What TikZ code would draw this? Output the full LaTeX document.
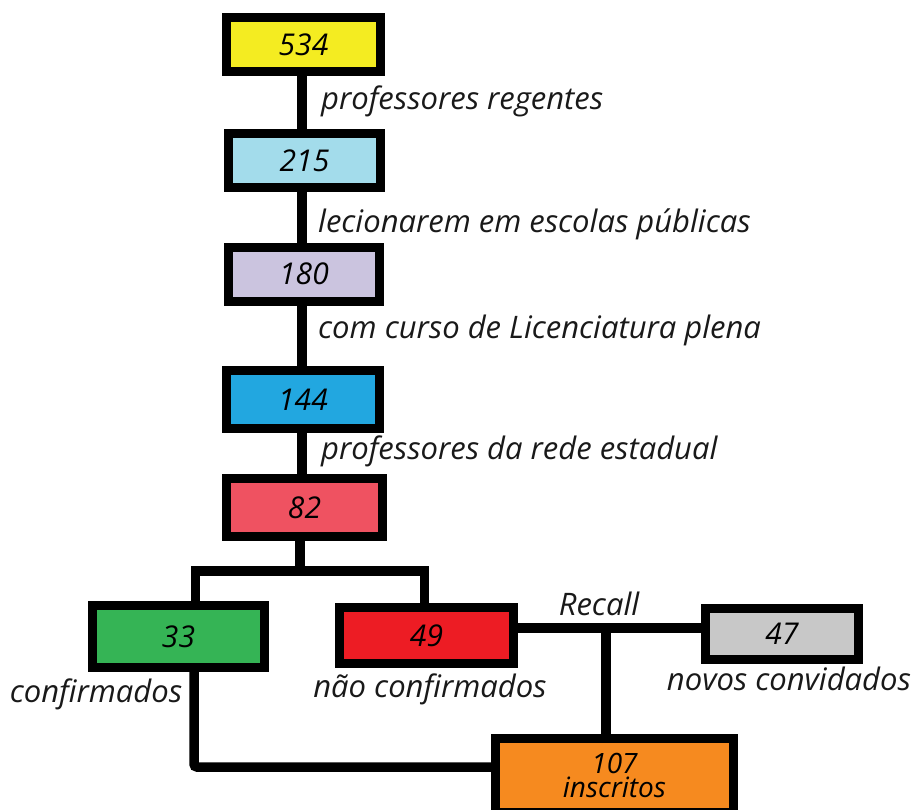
\documentclass[tikz,border=0pt]{standalone}
\usepackage{fontspec}
\setmainfont{Open Sans}
\begin{document}
\begin{tikzpicture}[x=1pt,y=-1pt,
  box/.style={draw=black, line width=9pt, rectangle, inner sep=0pt, outer sep=0pt, align=center, text=black,
    font=\fontsize{30}{30}\selectfont\itshape},
  lbl/.style={inner sep=0pt, text=black!90, font=\fontsize{31}{31}\selectfont\itshape},
  wire/.style={draw=black, line width=9.5pt}]
\useasboundingbox (0,0) rectangle (918,809);
\definecolor{cyel}{HTML}{F4EC21}
\definecolor{clblue}{HTML}{A3DCEB}
\definecolor{clav}{HTML}{CBC4DF}
\definecolor{cblue}{HTML}{22A7E0}
\definecolor{cpink}{HTML}{EF5261}
\definecolor{cgreen}{HTML}{35B455}
\definecolor{cred}{HTML}{ED1C24}
\definecolor{cgray}{HTML}{C8C8C8}
\definecolor{corange}{HTML}{F68A1F}

\node[box, fill=cyel, minimum width=154pt, minimum height=54pt] (n534) at (303.5,44.5) {534};
\node[box, fill=clblue, minimum width=152pt, minimum height=54pt] (n215) at (304.5,160.5) {215};
\node[box, fill=clav, minimum width=151pt, minimum height=54pt] (n180) at (304,274) {180};
\node[box, fill=cblue, minimum width=153pt, minimum height=58pt] (n144) at (303,399.5) {144};
\node[box, fill=cpink, minimum width=156pt, minimum height=58pt] (n82) at (304.5,507.5) {82};
\node[box, fill=cgreen, minimum width=172pt, minimum height=62pt] (n33) at (178.5,636.5) {33};
\node[box, fill=cred, minimum width=174pt, minimum height=56pt] (n49) at (426.5,635.5) {49};
\node[box, fill=cgray, minimum width=153pt, minimum height=51pt] (n47) at (782,634) {47};
\node[box, fill=corange, minimum width=238pt, minimum height=74pt, font=\fontsize{28}{27}\selectfont\itshape] (n107) at (614.5,775) {107\\[-3pt]inscritos};

% spine
\coordinate (sp) at (302,0);
\draw[wire] (n534.south -| sp) -- (n215.north -| sp);
\draw[wire] (n215.south -| sp) -- (n180.north -| sp);
\draw[wire] (n180.south -| sp) -- (n144.north -| sp);
\draw[wire] (n144.south -| sp) -- (n82.north -| sp);

% split below 82
\coordinate (sm) at (300,571);
\coordinate (sL) at (195.5,571);
\coordinate (sR) at (424.7,571);
\draw[wire] (n82.south -| sm) -- (sm);
\draw[wire, line join=miter] (sL |- n33.north) -- (sL) -- (sR) -- (sR |- n49.north);

% confirmados to inscritos
\coordinate (cL) at (194,767);
\draw[wire, rounded corners=3pt] (cL |- n33.south) -- (cL) -- (n107.west |- cL);

% recall
\coordinate (rc) at (606,628);
\draw[wire] (n49.east |- rc) -- (n47.west |- rc);
\draw[wire] (rc) -- (n107.north -| rc);

% labels
\node[lbl, anchor=base west] (l1) at (321,109) {professores regentes};
\node[lbl, anchor=base west] (l2) at (318,232.5) {lecionarem em escolas públicas};
\node[lbl, anchor=base west] (l3) at (318,338.5) {com curso de Licenciatura plena};
\node[lbl, anchor=base west] (l4) at (321,459.5) {professores da rede estadual};
\node[lbl, anchor=base] (l5) at (96,702.5) {confirmados};
\node[lbl, anchor=base] (l6) at (430,697.5) {não confirmados};
\node[lbl, anchor=base] (l7) at (599,615.5) {Recall};
\node[lbl, anchor=base] (l8) at (789,690) {novos convidados};
\end{tikzpicture}
\end{document}
